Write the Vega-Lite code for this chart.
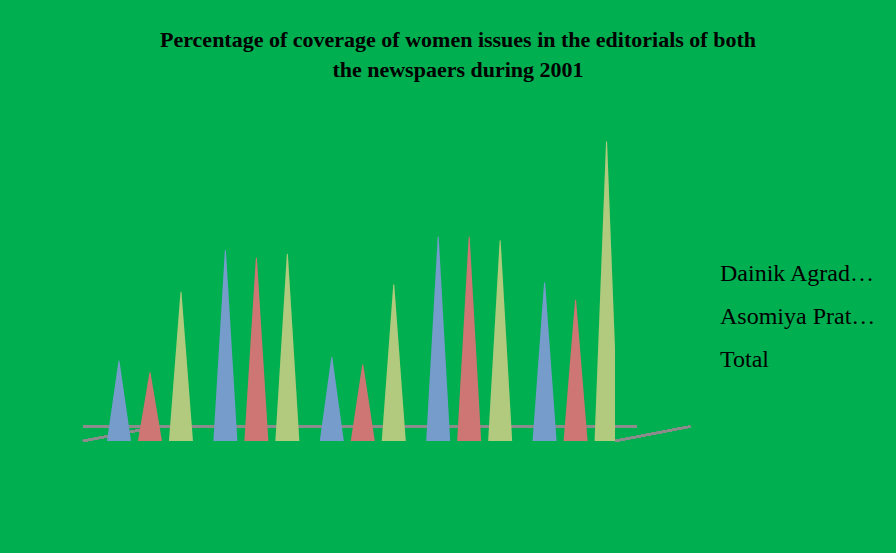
{
  "$schema": "https://vega.github.io/schema/vega-lite/v6.json",
  "width": 532,
  "height": 305,
  "autosize": {"type": "none"},
  "padding": {"left": 83, "top": 136, "right": 281, "bottom": 112},
  "background": "#00B050",
  "title": {
    "text": ["Percentage of coverage of women issues in the editorials of both", "the newspaers during 2001"],
    "font": "Liberation Serif",
    "fontSize": 22,
    "fontWeight": "bold",
    "color": "black",
    "anchor": "middle",
    "frame": "group",
    "dx": 109,
    "offset": 54,
    "lineHeight": 30
  },
  "data": {
    "values": [
      {"item": "Editorials", "paper": "Dainik Agradoot", "value": 21},
      {"item": "Editorials", "paper": "Asomiya Pratidin", "value": 18},
      {"item": "Editorials", "paper": "Total", "value": 39},
      {"item": "Editorials %", "paper": "Dainik Agradoot", "value": 50},
      {"item": "Editorials %", "paper": "Asomiya Pratidin", "value": 48},
      {"item": "Editorials %", "paper": "Total", "value": 49},
      {"item": "Articles", "paper": "Dainik Agradoot", "value": 22},
      {"item": "Articles", "paper": "Asomiya Pratidin", "value": 20},
      {"item": "Articles", "paper": "Total", "value": 41},
      {"item": "Articles %", "paper": "Dainik Agradoot", "value": 53.5},
      {"item": "Articles %", "paper": "Asomiya Pratidin", "value": 53.5},
      {"item": "Articles %", "paper": "Total", "value": 52.5},
      {"item": "Total", "paper": "Dainik Agradoot", "value": 41.5},
      {"item": "Total", "paper": "Asomiya Pratidin", "value": 37},
      {"item": "Total", "paper": "Total", "value": 78.5}
    ]
  },
  "transform": [
    {"calculate": "0", "as": "base"},
    {"fold": ["base", "value"], "as": ["end", "level"]}
  ],
  "layer": [
    {
      "mark": {"type": "rule", "color": "#8C8C8C", "strokeWidth": 2, "xOffset": 22, "x2Offset": 22},
      "encoding": {
        "y": {"datum": 3.8, "axis": null}
      }
    },
    {
      "mark": {"type": "rule", "color": "#8C8C8C", "strokeWidth": 2, "x2Offset": 22},
      "encoding": {
        "x": {"datum": "Editorials", "bandPosition": 0, "axis": null},
        "x2": {"datum": "Editorials"},
        "y": {"datum": 0, "axis": null},
        "y2": {"datum": 3.8}
      }
    },
    {
      "mark": {"type": "rule", "color": "#8C8C8C", "strokeWidth": 2, "xOffset": 106.4, "x2Offset": 128.4},
      "encoding": {
        "x": {"datum": "Total", "bandPosition": 0, "axis": null},
        "x2": {"datum": "Total"},
        "y": {"datum": 0, "axis": null},
        "y2": {"datum": 3.8}
      }
    },
    {
      "mark": {"type": "trail", "clip": true},
      "encoding": {
        "x": {
          "field": "item",
          "type": "nominal",
          "sort": ["Editorials", "Editorials %", "Articles", "Articles %", "Total"],
          "scale": {"paddingInner": 0, "paddingOuter": 0},
          "axis": {
            "title": null,
            "labelAngle": 0,
            "labelExpr": "indexof(datum.value, '%') >= 0 ? '%' : datum.value",
            "labelFontWeight": {"condition": {"test": "indexof(datum.value, '%') >= 0", "value": "bold"}, "value": "normal"},
            "tickBand": "extent",
            "tickSize": 6,
            "labelPadding": 10,
            "domainColor": "#8C8C8C",
            "domainWidth": 2,
            "tickColor": "#8C8C8C",
            "tickWidth": 2
          }
        },
        "xOffset": {
          "field": "paper",
          "type": "nominal",
          "sort": ["Dainik Agradoot", "Asomiya Pratidin", "Total"],
          "scale": {"paddingInner": 0, "paddingOuter": 0.717, "align": 0.81}
        },
        "y": {
          "field": "level",
          "type": "quantitative",
          "scale": {"domain": [0, 80], "nice": false},
          "axis": {
            "title": null,
            "values": [0, 10, 20, 30, 40, 50, 60, 70, 80],
            "grid": false,
            "tickSize": 7,
            "labelPadding": 14,
            "domainColor": "#8C8C8C",
            "domainWidth": 2,
            "tickColor": "#8C8C8C",
            "tickWidth": 2
          }
        },
        "size": {
          "field": "end",
          "type": "nominal",
          "scale": {"domain": ["base", "value"], "range": [24, 0]},
          "legend": null
        },
        "color": {
          "field": "paper",
          "type": "nominal",
          "sort": ["Dainik Agradoot", "Asomiya Pratidin", "Total"],
          "scale": {"domain": ["Dainik Agradoot", "Asomiya Pratidin", "Total"], "range": ["#4F81BD", "#C0504D", "#9BBB59"]},
          "legend": {
            "title": null,
            "orient": "none",
            "legendX": 607,
            "legendY": 126,
            "symbolType": "square",
            "symbolSize": 169,
            "symbolStrokeWidth": 0,
            "symbolOpacity": 1,
            "labelFont": "Liberation Serif",
            "labelFontSize": 24,
            "labelColor": "black",
            "labelOffset": 6,
            "rowPadding": 19
          }
        },
        "detail": {"field": "item", "type": "nominal"}
      }
    },
    {
      "mark": {"type": "trail", "clip": true, "color": "white", "opacity": 0.22, "xOffset": -3},
      "encoding": {
        "x": {"field": "item", "type": "nominal", "sort": ["Editorials", "Editorials %", "Articles", "Articles %", "Total"]},
        "xOffset": {"field": "paper", "type": "nominal", "sort": ["Dainik Agradoot", "Asomiya Pratidin", "Total"]},
        "y": {"field": "level", "type": "quantitative"},
        "size": {"field": "end", "type": "nominal", "scale": {"domain": ["base", "value"], "range": [24, 0]}, "legend": null},
        "detail": [{"field": "item", "type": "nominal"}, {"field": "paper", "type": "nominal"}]
      }
    }
  ],
  "resolve": {"scale": {"size": "independent"}},
  "config": {
    "view": {"stroke": null},
    "axis": {
      "labelFont": "Liberation Serif",
      "labelFontSize": 24,
      "labelColor": "black"
    }
  }
}
